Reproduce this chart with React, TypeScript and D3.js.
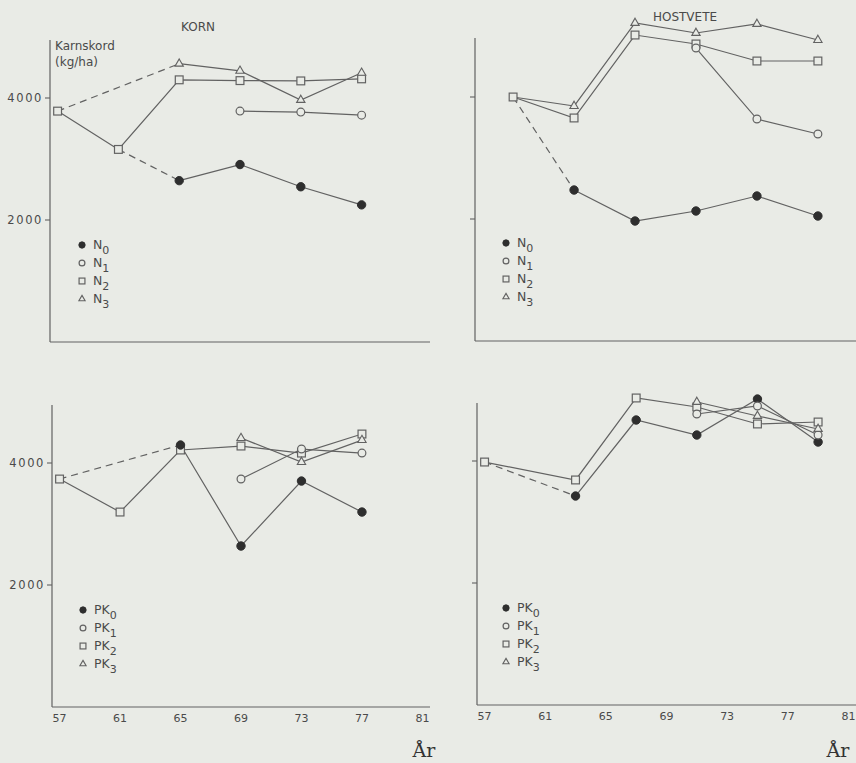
import React from "react";
import * as d3 from "d3";

// years per panel
const kornYears = [57, 61, 65, 69, 73, 77];
const hostNYears = [59, 63, 67, 71, 75, 79];
const hostPKYears = [57, 63, 67, 71, 75, 79];
const xTickLabels = [57, 61, 65, 69, 73, 77, 81];
const yTickValues = [2000, 4000];

// Kärnskörd kg/ha (null = no point)
const kornN0 = [null, 3157, 2645, 2909, 2545, 2248];
const kornN1 = [null, null, null, 3785, 3769, 3719];
const kornN2 = [3785, 3157, 4298, 4285, 4280, 4314];
const kornN3 = [3785, null, 4562, 4446, 3967, 4413];

const hostN0 = [4000, 2475, 1967, 2131, 2377, 2049];
const hostN1 = [null, null, null, 4803, 3639, 3393];
const hostN2 = [4000, 3656, 5016, 4869, 4590, 4590];
const hostN3 = [4000, 3852, 5213, 5049, 5197, 4934];

const kornPK0 = [3737, null, 4295, 2639, 3704, 3196];
const kornPK1 = [null, null, null, 3737, 4229, 4163];
const kornPK2 = [3737, 3196, 4213, 4278, 4163, 4475];
const kornPK3 = [null, null, null, 4409, 4016, 4376];

const hostPK0 = [3983, 3426, 4672, 4426, 5016, 4311];
const hostPK1 = [null, null, null, 4770, 4902, 4426];
const hostPK2 = [3983, 3689, 5033, 4885, 4607, 4639];
const hostPK3 = [null, null, null, 4967, 4738, 4525];

const BG = "#e9ebe6";
const INK = "#626262";
const TXT = "#4a4a4a";
const SANS = "'DejaVu Sans', sans-serif";

// kind: 0 filled circle, 1 open circle, 2 square, 3 triangle
// from: first index with a marker, lead: style of the segment leading to it
const panels = [
  {
    title: "KORN", titleX: 198, titleY: 31, years: kornYears, base: "N",
    x0: 50, x1: 430, yZero: 342, yTop: 40, yLabels: true, xLabels: false,
    legendX: 82, legendY: 245,
    series: [
      { kind: 2, values: kornN2, from: 0, lead: "solid" },
      { kind: 3, values: kornN3, from: 2, lead: "dash" },
      { kind: 0, values: kornN0, from: 2, lead: "dash" },
      { kind: 1, values: kornN1, from: 3, lead: "solid" },
    ],
  },
  {
    title: "HOSTVETE", titleX: 685, titleY: 21, years: hostNYears, base: "N",
    x0: 475, x1: 856, yZero: 341, yTop: 38, yLabels: false, xLabels: false,
    legendX: 506, legendY: 243,
    series: [
      { kind: 2, values: hostN2, from: 0, lead: "solid" },
      { kind: 3, values: hostN3, from: 1, lead: "solid" },
      { kind: 0, values: hostN0, from: 1, lead: "dash" },
      { kind: 1, values: hostN1, from: 3, lead: "solid" },
    ],
  },
  {
    title: "", titleX: 0, titleY: 0, years: kornYears, base: "PK",
    x0: 52, x1: 430, yZero: 707, yTop: 405, yLabels: true, xLabels: true,
    legendX: 83, legendY: 610,
    series: [
      { kind: 2, values: kornPK2, from: 0, lead: "solid" },
      { kind: 0, values: kornPK0, from: 2, lead: "dash" },
      { kind: 1, values: kornPK1, from: 3, lead: "solid" },
      { kind: 3, values: kornPK3, from: 3, lead: "solid" },
    ],
  },
  {
    title: "", titleX: 0, titleY: 0, years: hostPKYears, base: "PK",
    x0: 477, x1: 856, yZero: 705, yTop: 403, yLabels: false, xLabels: true,
    legendX: 506, legendY: 608,
    series: [
      { kind: 2, values: hostPK2, from: 0, lead: "solid" },
      { kind: 0, values: hostPK0, from: 1, lead: "dash" },
      { kind: 1, values: hostPK1, from: 3, lead: "solid" },
      { kind: 3, values: hostPK3, from: 3, lead: "solid" },
    ],
  },
];

function Marker({ kind, x, y, s = 1 }) {
  if (kind === 0) return <circle cx={x} cy={y} r={4.2 * s} fill="#2e2e2e" stroke="#2e2e2e" />;
  if (kind === 1) return <circle cx={x} cy={y} r={3.9 * s} fill={BG} stroke={INK} strokeWidth={1.2} />;
  if (kind === 2)
    return <rect x={x - 3.9 * s} y={y - 3.9 * s} width={7.8 * s} height={7.8 * s} fill={BG} stroke={INK} strokeWidth={1.2} />;
  const tri = d3.symbol().type(d3.symbolTriangle).size(30 * s * s)();
  return <path d={tri} transform={`translate(${x},${y})`} fill={BG} stroke={INK} strokeWidth={1.1} />;
}

function Panel({ p }) {
  const x = d3.scaleLinear().domain([56.5, 81.5]).range([p.x0, p.x1]);
  const y = d3.scaleLinear().domain([0, 1000]).range([p.yZero, p.yZero - 61]);
  const line = d3
    .line()
    .x((d) => x(d[0]))
    .y((d) => y(d[1]));

  const pts = (s) =>
    s.values.map((v, i) => (v == null ? null : [p.years[i], v, i])).filter((d) => d);

  return (
    <g>
      {p.title && (
        <text x={p.titleX} y={p.titleY} textAnchor="middle" fontSize={12} fill={TXT} fontFamily={SANS}>
          {p.title}
        </text>
      )}
      {/* axes */}
      <line x1={p.x0} x2={p.x0} y1={p.yTop} y2={p.yZero} stroke={INK} strokeWidth={1.2} />
      <line x1={p.x0} x2={p.x1} y1={p.yZero} y2={p.yZero} stroke={INK} strokeWidth={1.2} />
      {yTickValues.map((t) => (
        <g key={t}>
          <line x1={p.x0 - 5} x2={p.x0} y1={y(t)} y2={y(t)} stroke={INK} strokeWidth={1.1} />
          {p.yLabels && (
            <text x={p.x0 - 7} y={y(t) + 4} textAnchor="end" fontSize={11.5} letterSpacing={1.6} fill={TXT} fontFamily={SANS}>
              {t}
            </text>
          )}
        </g>
      ))}
      {p.xLabels &&
        xTickLabels.map((t) => (
          <text key={t} x={x(t)} y={p.yZero + 15} textAnchor="middle" fontSize={11} fill={TXT} fontFamily={SANS}>
            {t}
          </text>
        ))}
      {/* lines */}
      {p.series.map((s, si) => {
        const all = pts(s);
        const lead = all.filter((d) => d[2] <= s.from);
        const main = all.filter((d) => d[2] >= s.from);
        return (
          <g key={si}>
            {lead.length > 1 && (
              <path
                d={line(lead)}
                fill="none"
                stroke={INK}
                strokeWidth={1.2}
                strokeDasharray={s.lead === "dash" ? "7,5" : null}
              />
            )}
            {main.length > 1 && <path d={line(main)} fill="none" stroke={INK} strokeWidth={1.2} />}
          </g>
        );
      })}
      {/* markers */}
      {p.series.map((s, si) =>
        pts(s)
          .filter((d) => d[2] >= s.from)
          .map((d) => <Marker key={`${si}-${d[2]}`} kind={s.kind} x={x(d[0])} y={y(d[1])} />)
      )}
      {/* legend */}
      {[0, 1, 2, 3].map((k) => (
        <g key={k}>
          <Marker kind={k} x={p.legendX} y={p.legendY + k * 18} s={0.75} />
          <text x={p.legendX + 11} y={p.legendY + k * 18 + 4} fontSize={12.5} fill={TXT} fontFamily={SANS}>
            {p.base}
            <tspan dy={5} fontSize={11}>{k}</tspan>
          </text>
        </g>
      ))}
    </g>
  );
}

export default function App() {
  return (
    <svg
      width={856}
      height={763}
      style={{ position: "absolute", left: 0, top: 0, background: BG }}
    >
      <rect width={856} height={763} fill={BG} />
      <text x={55} y={50} fontSize={12} fill={TXT} fontFamily={SANS}>Karnskord</text>
      <text x={55} y={66} fontSize={12} fill={TXT} fontFamily={SANS}>(kg/ha)</text>
      {panels.map((p, i) => (
        <Panel key={i} p={p} />
      ))}
      <text x={424} y={757} textAnchor="middle" fontSize={19} fill="#333" fontFamily="'DejaVu Serif', serif">År</text>
      <text x={838} y={757} textAnchor="middle" fontSize={19} fill="#333" fontFamily="'DejaVu Serif', serif">År</text>
    </svg>
  );
}
